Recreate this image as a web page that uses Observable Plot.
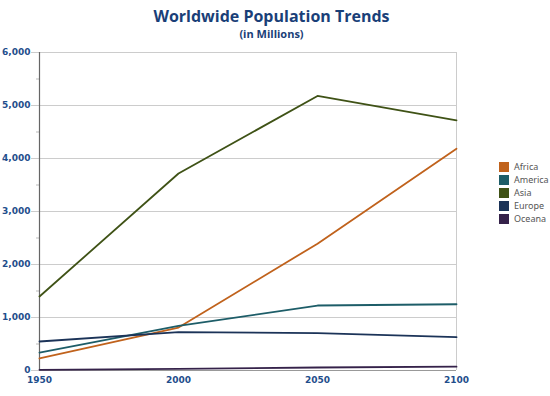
<!DOCTYPE html>
<html>
<head>
<meta charset="utf-8">
<script src="https://cdn.jsdelivr.net/npm/d3@7"></script>
<script src="https://cdn.jsdelivr.net/npm/@observablehq/plot@0.6"></script>
<style>
  html, body { margin: 0; padding: 0; background: #fff; }
  #wrap { position: relative; width: 550px; height: 396px; overflow: hidden; }
  #title { position: absolute; left: 0; width: 543px; top: 5px; text-align: center;
    font-family: "Open Sans", "Noto Sans", sans-serif; font-weight: 700; font-size: 16px; color: #1a3f78; }
  #subtitle { position: absolute; left: 0; width: 543px; top: 26px; text-align: center;
    font-family: "Open Sans", "Noto Sans", sans-serif; font-weight: 700; font-size: 11px; color: #1a3f78; }
  #legend { position: absolute; left: 499px; top: 160px; font-family: "Noto Sans", sans-serif; font-size: 9px; color: #555; }
  #legend .row { height: 13px; display: flex; align-items: center; white-space: nowrap; }
  #legend .sw { width: 10px; height: 10px; margin-right: 5px; box-sizing: border-box; flex: none; }
</style>
</head>
<body>
<div id="wrap">
  <div id="chart"></div>
  <div id="title">Worldwide Population Trends</div>
  <div id="subtitle">(in Millions)</div>
  <div id="legend"></div>
</div>
<script>
const years = [1950, 2000, 2050, 2100];
const regions = ["Africa", "America", "Asia", "Europe", "Oceana"];
const africa = [227, 811, 2393, 4185];
const america = [339, 841, 1226, 1250];
const asia = [1396, 3717, 5180, 4720];
const europe = [547, 723, 705, 630];
const oceana = [13, 31, 57, 72];
const colors = ["#c0621c", "#1d5d68", "#3f5216", "#1b3358", "#35224a"];
const yTicks = [0, 1000, 2000, 3000, 4000, 5000, 6000];
const yMinor = [500, 1500, 2500, 3500, 4500, 5500];

const series = [africa, america, asia, europe, oceana];
const data = [];
regions.forEach((r, i) => years.forEach((y, j) => data.push({region: r, year: y, value: series[i][j]})));

const chart = Plot.plot({
  width: 550,
  height: 396,
  marginTop: 52,
  marginBottom: 26,
  marginLeft: 39,
  marginRight: 94,
  style: {fontFamily: "DejaVu Sans, Verdana, sans-serif", fontSize: "9px", background: "#fff"},
  x: {type: "linear", domain: [1950, 2100], label: null},
  y: {domain: [0, 6000], label: null},
  color: {domain: regions, range: colors},
  marks: [
    Plot.ruleY(yTicks.slice(1), {stroke: "#cccccc", strokeWidth: 1}),
    Plot.ruleX([2100], {stroke: "#cccccc", strokeWidth: 1}),
    Plot.ruleY([0], {stroke: "#999999", strokeWidth: 1}),
    Plot.axisY({ticks: yMinor, tickSize: 3, tickFormat: () => "", stroke: "#bbbbbb"}),
    Plot.axisY({ticks: yTicks, tickSize: 8, tickPadding: 1, tickFormat: d3.format(","),
      stroke: "#cccccc", fill: "#1f4e8c", fontWeight: "bold"}),
    Plot.axisX({ticks: years, tickSize: 0, tickPadding: 6, tickFormat: d => String(d),
      fill: "#1f4e8c", fontWeight: "bold"}),
    Plot.ruleX([1950], {stroke: "#666666", strokeWidth: 1.2}),
    Plot.line(data, {x: "year", y: "value", z: "region", stroke: "region", strokeWidth: 1.8})
  ]
});
document.getElementById("chart").appendChild(chart);

const legend = document.getElementById("legend");
regions.forEach((r, i) => {
  const row = document.createElement("div");
  row.className = "row";
  const sw = document.createElement("div");
  sw.className = "sw";
  sw.style.background = colors[i];
  const t = document.createElement("span");
  t.textContent = r;
  row.appendChild(sw);
  row.appendChild(t);
  legend.appendChild(row);
});
</script>
</body>
</html>
